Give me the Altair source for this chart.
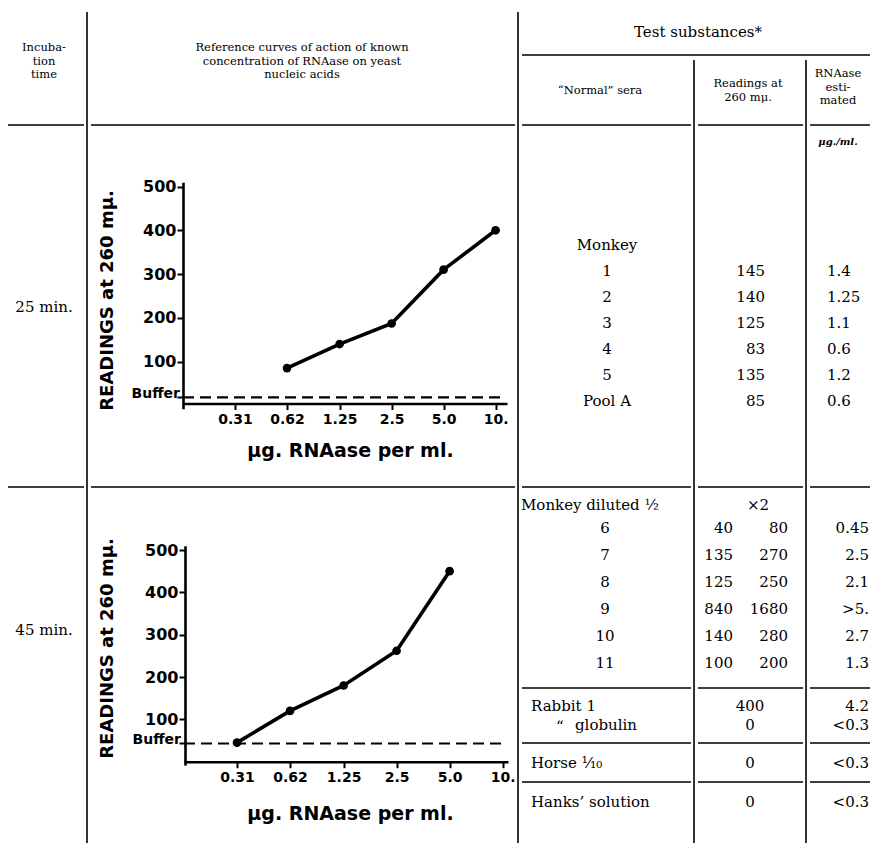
import json
import altair as alt
import pandas as pd

# ---------------- values ----------------
conc_ticks = [0.31, 0.62, 1.25, 2.5, 5.0, 10.0]
conc_tick_labels = ["0.31", "0.62", "1.25", "2.5", "5.0", "10."]
reading_ticks = [100, 200, 300, 400, 500]

conc_25 = [0.62, 1.25, 2.5, 5.0, 10.0]
reading_25 = [85, 140, 187, 310, 400]
buffer_25 = 18

conc_45 = [0.31, 0.62, 1.25, 2.5, 5.0]
reading_45 = [45, 120, 180, 262, 450]
buffer_45 = 43

incubation_times = ["25 min.", "45 min."]

header_incubation = ["Incuba-", "tion", "time"]
header_reference = ["Reference curves of action of known",
                    "concentration of RNAase on yeast",
                    "nucleic acids"]
header_test = "Test substances*"
header_sera = "\u201cNormal\u201d sera"
header_readings = ["Readings at", "260 m\u03bc."]
header_rnaase = ["RNAase", "esti-", "mated"]
unit_rnaase = "\u03bcg./ml."

sera_25 = ["Monkey", "1", "2", "3", "4", "5", "Pool A"]
readings_25 = ["", "145", "140", "125", "83", "135", "85"]
rnaase_25 = ["", "1.4", "1.25", "1.1", "0.6", "1.2", "0.6"]

sera_45_title = "Monkey diluted \u00bd"
readings_45_title = "\u00d72"
sera_45 = ["6", "7", "8", "9", "10", "11"]
readings_45 = ["40", "135", "125", "840", "140", "100"]
readings_45_x2 = ["80", "270", "250", "1680", "280", "200"]
rnaase_45 = ["0.45", "2.5", "2.1", ">5.", "2.7", "1.3"]

other_sera = ["Rabbit 1", "globulin", "Horse \u00b9\u2044\u2081\u2080", "Hanks\u2019 solution"]
ditto = "\u201c"
other_readings = ["400", "0", "0", "0"]
other_rnaase = ["4.2", "<0.3", "<0.3", "<0.3"]

x_title = "\u03bcg. RNAase per ml."
y_title = "READINGS at 260 m\u03bc."

# ---------------- layout (page pixels) ----------------
W, H = 862, 835
M = 8


def X(v):
    return v - M


def Y(v):
    return v - M


SERIF = "DejaVu Serif"
SANS = "DejaVu Sans"

# table rules
rule_rows = []


def seg(x1, x2, y1, y2, w=1.6):
    rule_rows.append(dict(x=X(x1), x2=X(x2), y=Y(y1), y2=Y(y2), w=w))


seg(0, 878, 5, 5, 2.6)
for cx, top in [(87, 12), (518, 12), (694, 60), (806, 60)]:
    seg(cx, cx, top, 851)
seg(522, 878, 55, 55)
full_segs = [(0, 84), (91, 515), (522, 691), (698, 803), (810, 878)]
right_segs = [(522, 691), (698, 803), (810, 878)]
for yy in (125, 487):
    for a, b in full_segs:
        seg(a, b, yy, yy)
row45_y0 = 528
row45_dy = 27
sep1 = 688
for yy in (sep1, sep1 + 55, sep1 + 94):
    for a, b in right_segs:
        seg(a, b, yy, yy)

rules = alt.Chart(pd.DataFrame(rule_rows)).mark_rule(color="black").encode(
    x=alt.X("x:Q", scale=None, axis=None),
    x2="x2:Q",
    y=alt.Y("y:Q", scale=None, axis=None),
    y2="y2:Q",
    strokeWidth=alt.StrokeWidth("w:Q", scale=None, legend=None),
)

# table texts
texts = {"hdr": [], "big": [], "unit": [], "c": [], "l": [], "r": []}


def put(style, t, x, y):
    texts[style].append(dict(t=t, x=X(x), y=Y(y)))


HS = 13.5
for i, t in enumerate(header_incubation):
    put("hdr", t, 44, 48 + HS * i)
for i, t in enumerate(header_reference):
    put("hdr", t, 302, 48 + HS * i)
put("big", header_test, 698, 32)
put("hdr", header_sera, 600, 91)
for i, t in enumerate(header_readings):
    put("hdr", t, 748, 84 + HS * i)
for i, t in enumerate(header_rnaase):
    put("hdr", t, 838, 74 + HS * i)
put("unit", unit_rnaase, 838, 142)

put("c", incubation_times[0], 44, 307)
put("c", incubation_times[1], 44, 630)

for i in range(len(sera_25)):
    yy = 245 + 26 * i
    put("c", sera_25[i], 607, yy)
    if readings_25[i]:
        put("r", readings_25[i], 765, yy)
    if rnaase_25[i]:
        put("l", rnaase_25[i], 827, yy)

put("l", sera_45_title, 521, 505)
put("c", readings_45_title, 758, 505)
for i in range(len(sera_45)):
    yy = row45_y0 + row45_dy * i
    put("c", sera_45[i], 605, yy)
    put("r", readings_45[i], 733, yy)
    put("r", readings_45_x2[i], 788, yy)
    put("r", rnaase_45[i], 869, yy)

other_y = [sep1 + 18, sep1 + 37, sep1 + 75, sep1 + 114]
for i in range(len(other_sera)):
    put("l", other_sera[i], 575 if i == 1 else 531, other_y[i])
    put("c", other_readings[i], 750, other_y[i])
    put("r", other_rnaase[i], 869, other_y[i])
put("l", ditto, 556, other_y[1] + 1)

styles = {
    "hdr": dict(font=SERIF, fontSize=11.5, align="center"),
    "big": dict(font=SERIF, fontSize=15, align="center"),
    "unit": dict(font=SERIF, fontSize=10, align="center", fontStyle="italic", fontWeight="bold"),
    "c": dict(font=SERIF, fontSize=15, align="center"),
    "l": dict(font=SERIF, fontSize=15, align="left"),
    "r": dict(font=SERIF, fontSize=15, align="right"),
}

text_layers = []
for key, rows in texts.items():
    text_layers.append(
        alt.Chart(pd.DataFrame(rows)).mark_text(baseline="middle", color="black", **styles[key]).encode(
            x=alt.X("x:Q", scale=None, axis=None),
            y=alt.Y("y:Q", scale=None, axis=None),
            text="t:N",
        )
    )

x_label_expr = f"{json.dumps(conc_tick_labels)}[indexof({json.dumps(conc_ticks)}, datum.value)]"


def curve(conc_vals, read_vals, buffer_val, x_left, per_doubling, x_right, y_zero, ppu,
          xaxis_y, yaxis_x, buf_end, x_title_pos, y_title_pos):
    x_min = conc_ticks[0] / 2
    x_max = x_min * 2 ** ((x_right - x_left) / per_doubling)
    xs = alt.Scale(type="log", base=2, domain=[x_min, x_max], range=[X(x_left), X(x_right)], nice=False)
    ys = alt.Scale(domain=[-8, 510], range=[Y(y_zero + 8 * ppu), Y(y_zero - 510 * ppu)],
                   nice=False, zero=False)
    xaxis = alt.Axis(
        orient="bottom", offset=Y(xaxis_y) - H, values=conc_ticks, labelExpr=x_label_expr,
        title=x_title, titleX=X(x_title_pos[0]), titleY=x_title_pos[1] - xaxis_y,
        titleAlign="center", titleBaseline="middle", titleFont=SANS, titleFontSize=19,
        titleFontWeight="bold", labelFont=SANS, labelFontSize=14, labelFontWeight="bold",
        labelPadding=3, tickSize=6, tickWidth=2, domainWidth=2.6, labelFlush=False,
        labelOverlap=False, domainColor="black", tickColor="black", labelColor="black",
        titleColor="black", grid=False,
    )
    yaxis = alt.Axis(
        orient="left", offset=-X(yaxis_x), values=[buffer_val] + reading_ticks,
        labelExpr="datum.value < 60 ? '' : datum.label",
        title=y_title, titleX=y_title_pos[0] - yaxis_x, titleY=Y(y_title_pos[1]), titleAngle=270,
        titleAlign="center", titleBaseline="middle", titleFont=SANS, titleFontSize=18,
        titleFontWeight="bold", labelFont=SANS, labelFontSize=16, labelFontWeight="bold",
        labelPadding=1, tickSize=6, tickWidth=2, domainWidth=2.6, labelFlush=False,
        labelOverlap=False, domainColor="black", tickColor="black", labelColor="black",
        titleColor="black", grid=False,
    )
    enc = dict(x=alt.X("conc:Q", scale=xs, axis=xaxis), y=alt.Y("reading:Q", scale=ys, axis=yaxis))
    pts = pd.DataFrame({"conc": conc_vals, "reading": read_vals})
    buf = pd.DataFrame({"conc": [x_min], "conc_end": [buf_end], "reading": [buffer_val], "t": ["Buffer"]})
    line = alt.Chart(pts).mark_line(color="black", strokeWidth=3.6).encode(**enc)
    dots = alt.Chart(pts).mark_circle(color="black", size=75, opacity=1).encode(**enc)
    brule = alt.Chart(buf).mark_rule(color="black", strokeWidth=2.2, strokeDash=[11, 6]).encode(
        x2="conc_end:Q", **enc)
    btext = alt.Chart(buf).mark_text(align="right", baseline="middle", dx=-3, dy=-3, font=SANS,
                                     fontSize=14, fontWeight="bold", color="black").encode(
        text="t:N", **enc)
    return alt.layer(brule, line, dots, btext)


top = curve(conc_25, reading_25, buffer_25, 183, 52, 507, 405.3, 0.4375,
            403.5, 183, 11.2, (350, 450), (107, 300))
bottom = curve(conc_45, reading_45, buffer_45, 184, 53, 508, 761.7, 0.4234,
               761.7, 185, 10.5, (350, 813), (107, 648))

chart = alt.layer(rules, *text_layers, top, bottom).resolve_scale(
    x="independent", y="independent"
).properties(
    width=W, height=H, padding=0, autosize=alt.AutoSizeParams(type="none"),
    background="white",
).configure_view(strokeWidth=0)

chart.save("out.html", embed_options={"renderer": "svg", "actions": False})
